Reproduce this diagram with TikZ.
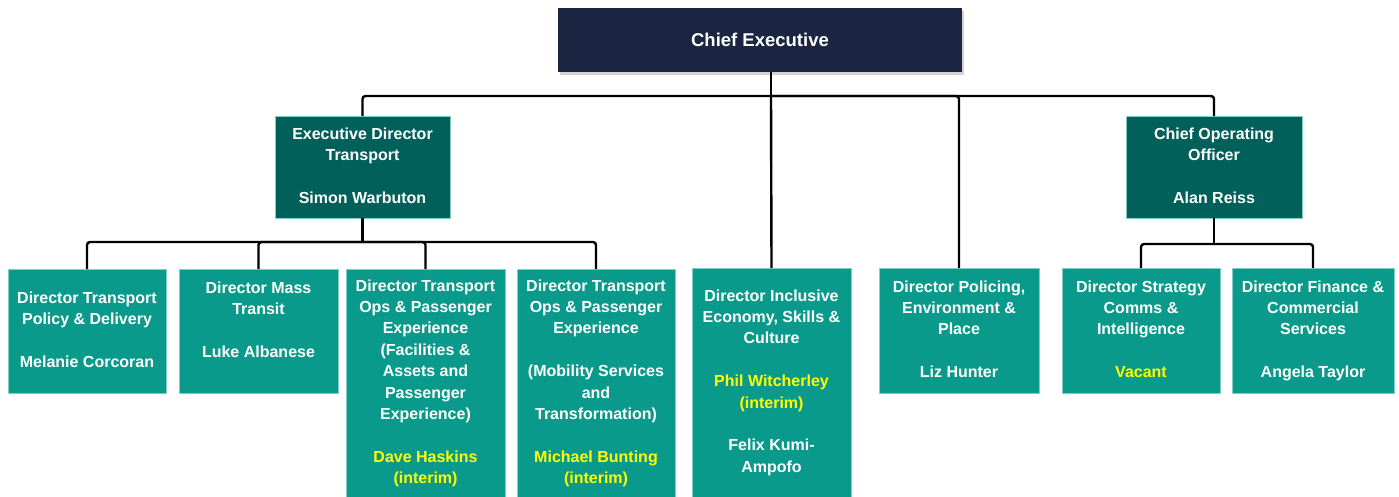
\documentclass[tikz,border=0pt]{standalone}
\usepackage{fontspec}
\setmainfont{Liberation Sans}
\usetikzlibrary{shadows}
\definecolor{cenavy}{HTML}{1B2541}
\definecolor{darkteal}{HTML}{02605A}
\definecolor{boxteal}{HTML}{0A9A8B}
\definecolor{boxedge}{HTML}{7FCFC5}
\definecolor{namey}{HTML}{FFFF00}
\begin{document}
\begin{tikzpicture}[x=1pt,y=-1pt,
  box/.style={rectangle, draw=boxedge, line width=0.6pt, inner sep=0pt, outer sep=0pt},
  lowbox/.style={box, fill=boxteal},
  midbox/.style={box, fill=darkteal},
  lbl/.style={anchor=north, align=center, inner sep=0pt, text=white,
    font=\fontsize{16}{21.4}\selectfont\bfseries},
  conn/.style={line width=2.4pt, black, rounded corners=3pt}
]
\useasboundingbox (0,0) rectangle (1399,496);

% boxes
\node[box, fill=cenavy, draw=none, minimum width=404pt, minimum height=64pt,
  drop shadow={shadow xshift=2pt, shadow yshift=-3pt, opacity=0.35}] (ce) at (760,40) {};
\node[midbox, minimum width=175pt, minimum height=102pt] (edt) at (362.5,167) {};
\node[midbox, minimum width=176pt, minimum height=102pt] (coo) at (1214,167) {};
\node[lowbox, minimum width=158pt, minimum height=124pt] (b1) at (87,331) {};
\node[lowbox, minimum width=159pt, minimum height=124pt] (b2) at (258.5,331) {};
\node[lowbox, minimum width=159pt, minimum height=228pt] (b3) at (425.5,383) {};
\node[lowbox, minimum width=158pt, minimum height=228pt] (b4) at (596,383) {};
\node[lowbox, minimum width=159pt, minimum height=229pt] (b5) at (771.5,382.5) {};
\node[lowbox, minimum width=160pt, minimum height=125pt] (b6) at (959,330.5) {};
\node[lowbox, minimum width=158pt, minimum height=125pt] (b7) at (1141,330.5) {};
\node[lowbox, minimum width=162pt, minimum height=125pt] (b8) at (1313,330.5) {};

% texts
\node[text=white, font=\fontsize{18.5}{22}\selectfont\bfseries, inner sep=0pt] (tce) at (760,40) {Chief Executive};
\node[lbl] (tedt) at (362.5,124) {\strut Executive Director\\ Transport\\[21.4pt] Simon Warbuton};
\node[lbl] (tcoo) at (1214,124) {\strut Chief Operating\\ Officer\\[21.4pt] Alan Reiss};
\node[lbl] (t1) at (87,288) {\strut Director Transport\\ Policy \& Delivery\\[21.4pt] Melanie Corcoran};
\node[lbl] (t2) at (258.5,278) {\strut Director Mass\\ Transit\\[21.4pt] Luke Albanese};
\node[lbl] (t3) at (425.5,276) {\strut Director Transport\\ Ops \& Passenger\\ Experience\\ (Facilities \&\\ Assets and\\ Passenger\\ Experience)\\[21.4pt] {\color{namey}Dave Haskins}\\ {\color{namey}(interim)}};
\node[lbl] (t4) at (596,276) {\strut Director Transport\\ Ops \& Passenger\\ Experience\\[21.4pt] (Mobility Services\\ and\\ Transformation)\\[21.4pt] {\color{namey}Michael Bunting}\\ {\color{namey}(interim)}};
\node[lbl] (t5) at (771.5,286) {\strut Director Inclusive\\ Economy, Skills \&\\ Culture\\[21.4pt] {\color{namey}Phil Witcherley}\\ {\color{namey}(interim)}\\[21.4pt] Felix Kumi-\\ Ampofo};
\node[lbl] (t6) at (959,277) {\strut Director Policing,\\ Environment \&\\ Place\\[21.4pt] Liz Hunter};
\node[lbl] (t7) at (1141,277) {\strut Director Strategy\\ Comms \&\\ Intelligence\\[21.4pt] {\color{namey}Vacant}};
\node[lbl] (t8) at (1313,277) {\strut Director Finance \&\\ Commercial\\ Services\\[21.4pt] Angela Taylor};

% connectors
\coordinate (ceout) at (771,72);
\coordinate (bus) at (771,96);
\draw[conn] (ceout) -- (bus);
\draw[conn] (bus) -| (edt.north);
\draw[conn] (bus) -| (coo.north);
\draw[conn] (bus) -- (b5.north);
\draw[conn] (bus) -| (b6.north);

\coordinate (edtbus) at (362.5,242);
\draw[conn] (edt.south) -- (edtbus);
\draw[conn] (edtbus) -| (b1.north);
\draw[conn] (edtbus) -| (b2.north);
\draw[conn] (edtbus) -| (b3.north);
\draw[conn] (edtbus) -| (b4.north);

\coordinate (coobus) at (1214,244);
\draw[conn] (coo.south) -- (coobus);
\draw[conn] (coobus) -| (b7.north);
\draw[conn] (coobus) -| (b8.north);
\end{tikzpicture}
\end{document}
